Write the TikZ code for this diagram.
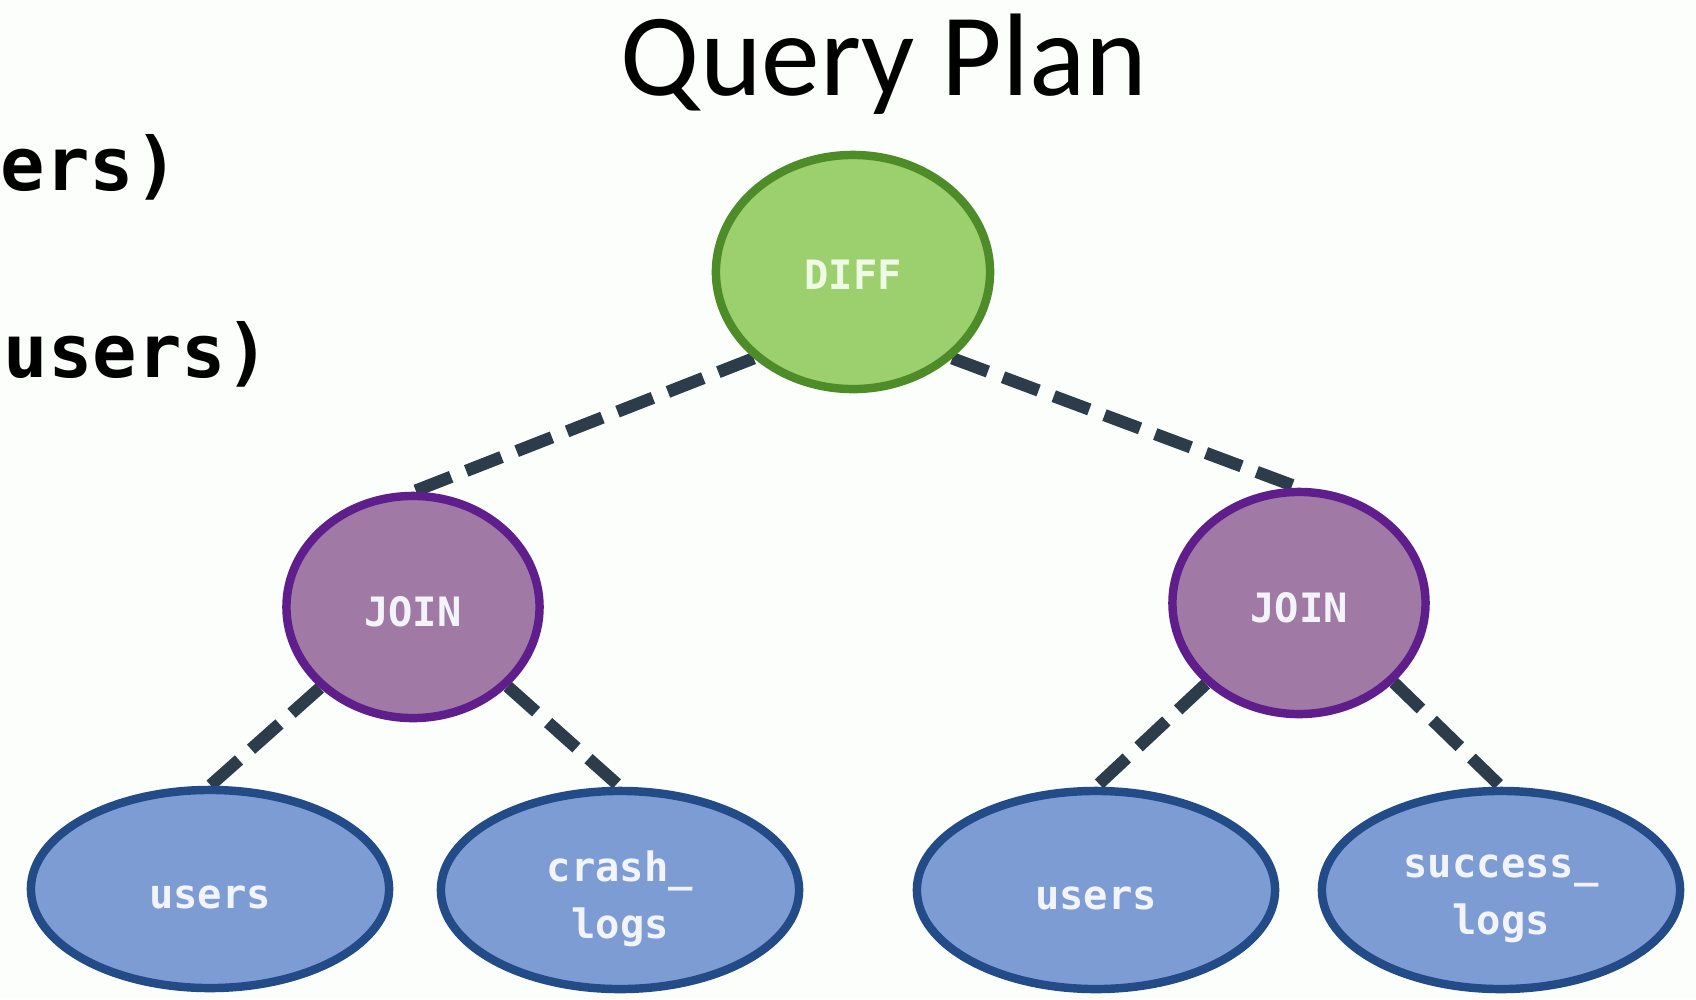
\documentclass[tikz,border=0pt]{standalone}
\usepackage{fontspec}
\setmainfont{Carlito}
\newfontfamily\codefont{DejaVu Sans Mono}
\usetikzlibrary{shapes.geometric,backgrounds}

\definecolor{pagebg}{HTML}{FCFEFB}
\definecolor{diffFill}{HTML}{9CCF6E}
\definecolor{diffLine}{HTML}{4D8C28}
\definecolor{diffText}{HTML}{EEFAE4}
\definecolor{joinFill}{HTML}{A07AA5}
\definecolor{joinLine}{HTML}{5F1E8C}
\definecolor{tableFill}{HTML}{7E9CD4}
\definecolor{tableLine}{HTML}{234B87}
\definecolor{edgeColor}{HTML}{2D3C4B}
\definecolor{labelText}{HTML}{F2F4FA}

% lower the ink of a label without changing its box
\newcommand\sinktext[2]{\raisebox{-#1}[\height][\depth]{#2}}

\begin{document}
\begin{tikzpicture}[x=0.01cm,y=-0.01cm,
  planop/.style={ellipse, line width=2.4pt, inner sep=0pt, align=center,
    font=\codefont\bfseries\fontsize{11.5}{16.2}\selectfont},
  diffop/.style={planop, fill=diffFill, draw=diffLine, text=diffText,
    minimum width=2.74cm, minimum height=2.34cm},
  joinop/.style={planop, fill=joinFill, draw=joinLine, text=labelText,
    minimum width=2.53cm, minimum height=2.22cm},
  tableop/.style={planop, fill=tableFill, draw=tableLine, text=labelText,
    minimum width=3.58cm, minimum height=1.98cm},
  planedge/.style={draw=edgeColor, line width=3.5pt, dash pattern=on 10.8pt off 4.6pt},
  codeline/.style={anchor=base west, inner sep=0pt,
    font=\codefont\bfseries\fontsize{21}{25}\selectfont}
]
\useasboundingbox (0,0) rectangle (1696,999);

% title
\node[anchor=base, inner sep=0pt, font=\fontsize{33.4}{40}\selectfont] (title) at (884,95) {Query Plan};

% tail of the query text on the left
\node[codeline] (codeA) at (0,190) {ers)};
\node[codeline] (codeB) at (3,377) {users)};

% operators
\node[diffop] (diff) at (853,272) {\sinktext{0.8pt}{DIFF}};
\node[joinop] (joinL) at (413,607) {\sinktext{1.4pt}{JOIN}};
\node[joinop] (joinR) at (1299,603) {\sinktext{1.4pt}{JOIN}};

% base tables
\node[tableop] (usersL) at (210,889) {\sinktext{2.5pt}{users}};
\node[tableop] (crash) at (620,890) {\sinktext{2.5pt}{crash\_}\\\sinktext{2.5pt}{logs}};
\node[tableop] (usersR) at (1096,890) {\sinktext{2.5pt}{users}};
\node[tableop] (success) at (1501,890) {\sinktext{2.5pt}{success\_}\\\sinktext{2.5pt}{logs}};

% page tint and tree edges, behind the nodes
\begin{scope}[on background layer]
  \fill[pagebg] (0,0) rectangle (1696,999);
  \draw[planedge] (diff.221) -- (joinL.north);
  \draw[planedge] (diff.319) -- (joinR.north);
  \draw[planedge] (joinL.221) -- (usersL.north);
  \draw[planedge] (joinL.320) -- (crash.north);
  \draw[planedge] (joinR.221) -- (usersR.north);
  \draw[planedge] (joinR.320) -- (success.north);
\end{scope}
\end{tikzpicture}
\end{document}
